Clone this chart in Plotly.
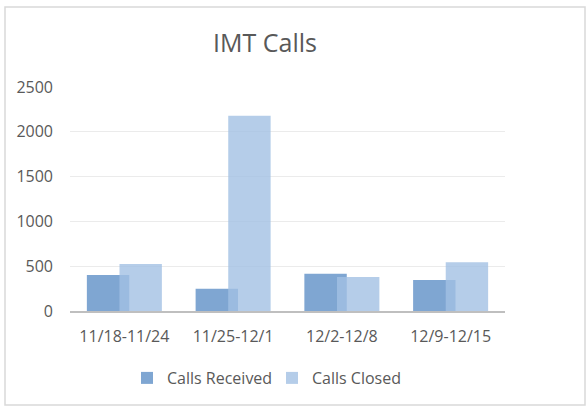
import plotly.graph_objects as go

categories = ["11/18-11/24", "11/25-12/1", "12/2-12/8", "12/9-12/15"]
calls_received = [402, 249, 416, 346]
calls_closed = [525, 2180, 380, 543]
series_names = ["Calls Received", "Calls Closed"]
y_ticks = [0, 500, 1000, 1500, 2000, 2500]

FONT = "Open Sans"
TXT = "#595959"

fig = go.Figure()
fig.add_trace(go.Bar(
    x=categories, y=calls_received, name=series_names[0],
    marker=dict(color="#7FA6D2", line=dict(width=0)),
    width=0.39, offset=-0.345,
))
fig.add_trace(go.Bar(
    x=categories, y=calls_closed, name=series_names[1],
    marker=dict(color="rgba(162,192,228,0.8)", line=dict(width=0)),
    width=0.39, offset=-0.045,
))

L, R, T, B = 70, 83, 87, 97
W, H = 588, 408
pw, ph = W - L - R, H - T - B

fig.update_layout(
    width=W, height=H,
    margin=dict(l=L, r=R, t=T, b=B),
    paper_bgcolor="white", plot_bgcolor="white",
    barmode="overlay",
    font=dict(family=FONT, size=16, color=TXT),
    title=dict(text="IMT Calls", x=(265 - L) / pw, xref="paper", xanchor="center",
               y=1 - 43 / H, yanchor="middle",
               font=dict(family=FONT, size=25, color=TXT)),
    xaxis=dict(showgrid=False, showline=True, linecolor="#BFBFBF", linewidth=2,
               ticks="", tickfont=dict(size=16, color=TXT), ticklabelstandoff=10),
    yaxis=dict(range=[0, 2500], tickvals=y_ticks, showgrid=True, gridcolor="#EBEBEB",
               gridwidth=1, zeroline=False, showline=False, ticks="",
               tickfont=dict(size=16, color=TXT), ticklabelstandoff=16),
    legend=dict(orientation="h", x=(127 - L) / pw, xanchor="left", y=-67 / ph, yanchor="middle",
                entrywidth=100, entrywidthmode="pixels",
                font=dict(size=16, color=TXT), bgcolor="rgba(0,0,0,0)"),
    shapes=[dict(type="rect", xref="paper", yref="paper",
                 x0=(5 - L) / pw, x1=(585 - L) / pw,
                 y0=-(405 - (T + ph)) / ph,
                 y1=1 + (T - 7) / ph,
                 line=dict(color="#D9D9D9", width=1.5), layer="below")],
)

fig.write_html("out.html", config={"displayModeBar": False},
               post_script="document.body.style.margin='0';document.body.style.overflow='hidden';")
